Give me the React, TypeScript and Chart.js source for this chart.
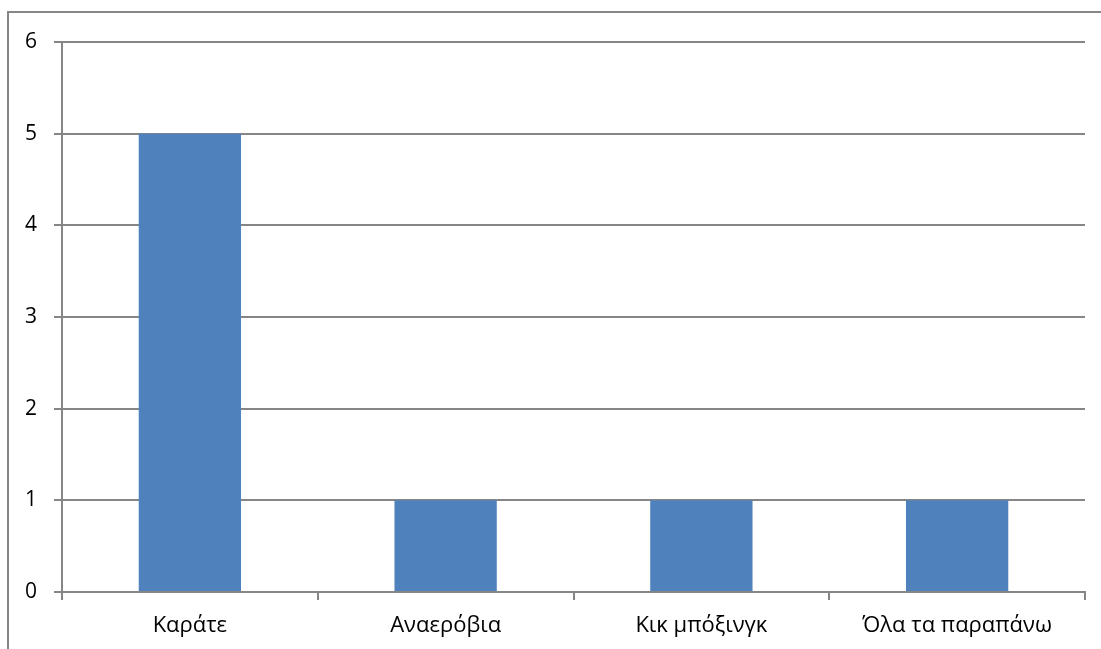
import React, { useEffect, useRef } from "react";
import { Chart, registerables } from "chart.js";

Chart.register(...registerables);

const categories = ["Καράτε", "Αναερόβια", "Κικ μπόξινγκ", "Όλα τα παραπάνω"];
const values = [5, 1, 1, 1];
const yTicks = [0, 1, 2, 3, 4, 5, 6];

const GRAY = "#868686";

export default function App() {
  const ref = useRef<HTMLCanvasElement>(null);
  useEffect(() => {
    const ctx = ref.current!;
    const chart = new Chart(ctx, {
      type: "bar",
      data: {
        labels: categories,
        datasets: [
          {
            data: values,
            backgroundColor: "#4F81BD",
            barPercentage: 0.4,
            categoryPercentage: 1,
          },
        ],
      },
      options: {
        animation: false,
        responsive: false,
        maintainAspectRatio: false,
        layout: { padding: { left: 0, top: 42, right: 16, bottom: 0 } },
        plugins: { legend: { display: false }, tooltip: { enabled: false } },
        scales: {
          x: {
            grid: {
              offset: true,
              drawOnChartArea: false,
              drawTicks: true,
              tickLength: 8,
              color: GRAY,
              lineWidth: 2,
            },
            border: { color: GRAY, width: 2 },
            ticks: {
              color: "#000",
              font: { family: "Open Sans", size: 22 },
              padding: 13,
              maxRotation: 0,
            },
            afterFit: (s: any) => {
              s.height = 57;
            },
          },
          y: {
            min: 0,
            max: 6,
            afterBuildTicks: (s: any) => {
              s.ticks = yTicks.map((v) => ({ value: v }));
            },
            grid: { color: GRAY, lineWidth: 2, tickLength: 8 },
            border: { color: GRAY, width: 2 },
            ticks: {
              color: "#000",
              font: { family: "Open Sans", size: 21 },
              padding: 17,
            },
            afterFit: (s: any) => {
              s.width = 62;
            },
          },
        },
      },
    });
    return () => chart.destroy();
  }, []);
  return (
    <div
      style={{
        position: "fixed",
        left: 0,
        top: 0,
        width: 1101,
        height: 649,
        overflow: "hidden",
        background: "#fff",
      }}
    >
      <div
        style={{
          position: "absolute",
          left: 7,
          top: 11,
          width: 3000,
          height: 3000,
          borderTop: `2px solid ${GRAY}`,
          borderLeft: `2px solid ${GRAY}`,
        }}
      />
      <canvas
        ref={ref}
        width={1101}
        height={649}
        style={{ position: "absolute", left: 0, top: 0, width: 1101, height: 649 }}
      />
    </div>
  );
}
